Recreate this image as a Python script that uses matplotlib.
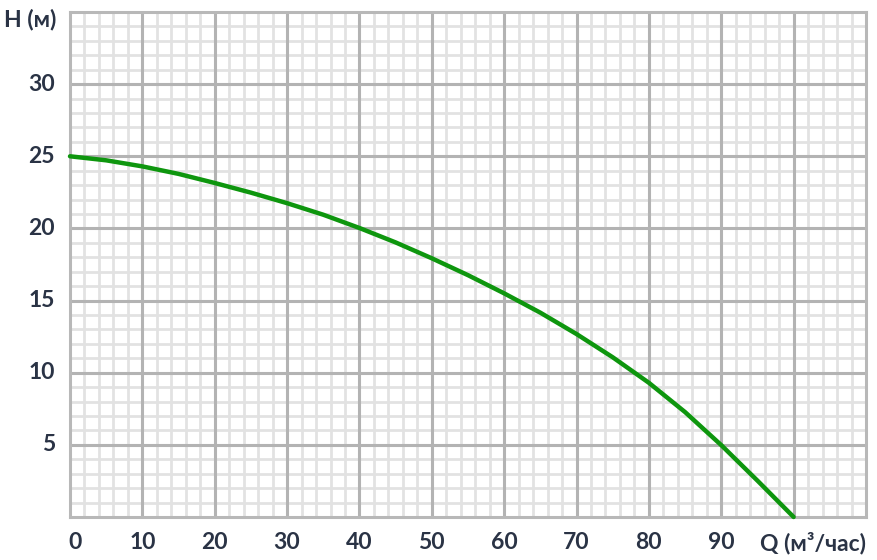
import matplotlib
matplotlib.use("Agg")
import matplotlib.pyplot as plt
import numpy as np

# Data
q_values = [0, 5, 10, 15, 20, 25, 30, 35, 40, 45, 50, 55, 60, 65, 70, 75, 80, 85, 90, 95, 100]
h_values = [25.0, 24.72, 24.3, 23.78, 23.15, 22.48, 21.75, 20.95, 20.03, 19.03, 17.93, 16.76,
            15.5, 14.16, 12.68, 11.07, 9.3, 7.27, 4.98, 2.52, 0.0]
x_ticks = [0, 10, 20, 30, 40, 50, 60, 70, 80, 90]
y_ticks = [5, 10, 15, 20, 25, 30]
x_label = "Q (м³/час)"
y_label = "H (м)"

plt.rcParams['font.family'] = ['Lato', 'DejaVu Sans']
text_color = '#2a3345'
fs = 16.5

fig = plt.figure(figsize=(8.78, 5.6), dpi=100)
ax = fig.add_axes([70/878, 1-517/560, (866-70)/878, (517-12)/560])
ax.set_xlim(0, 110)
ax.set_ylim(0, 35)

# grid drawn manually so major lines sit above all minor lines
minor_x = [v for v in range(0, 111, 2) if v % 10 != 0]
minor_y = [v for v in range(0, 36, 1) if v % 5 != 0]
major_x = list(range(10, 110, 10))
major_y = list(range(5, 35, 5))
for v in minor_x:
    ax.axvline(v, color='#e2e2e2', linewidth=2.0, zorder=0.5)
for v in minor_y:
    ax.axhline(v, color='#e2e2e2', linewidth=2.0, zorder=0.5)
for v in major_x:
    ax.axvline(v, color='#b3b3b3', linewidth=2.2, zorder=1)
for v in major_y:
    ax.axhline(v, color='#b3b3b3', linewidth=2.2, zorder=1)
for s in ax.spines.values():
    s.set_color('#b8b8b8')
    s.set_linewidth(2.2)
ax.set_xticks([])
ax.set_yticks([])

ax.plot(q_values, h_values, color='#0e960e', linewidth=3.2, solid_capstyle='round',
        solid_joinstyle='round', zorder=3, clip_on=False)

for t in x_ticks:
    xo = 0.7 if t == 0 else 0
    ax.text(t + xo, -1.8, str(t), ha='center', va='center', fontsize=fs, fontweight='bold', color=text_color)
ax.text(110, -1.8, x_label, ha='right', va='center', fontsize=fs, fontweight='bold', color=text_color)
for t in y_ticks:
    fig.text(55/878, 1-(517 - t*14.43)/560, str(t), ha='right', va='center', fontsize=fs,
             fontweight='bold', color=text_color)
fig.text(4/878, 1-20/560, y_label, ha='left', va='center', fontsize=fs, fontweight='bold', color=text_color)

fig.savefig('out.png', dpi=100, facecolor='white')
